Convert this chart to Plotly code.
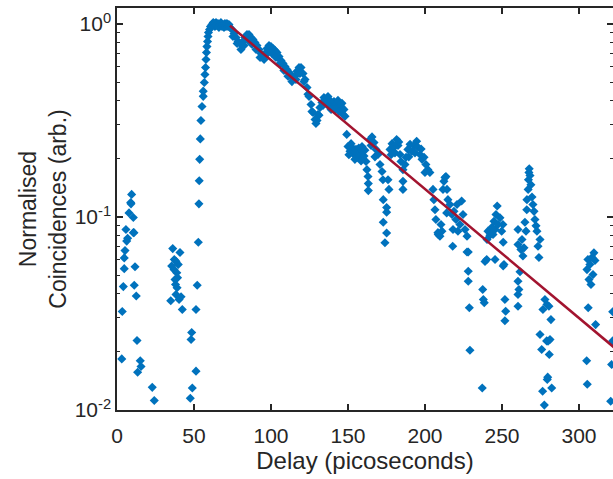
import plotly.graph_objects as go

## dados (delay em ps, coincidencias normalizadas)
# fundo antes do pulso
bg_delay = [3.1, 3.4, 4.1, 4.7, 4.7, 5.2, 5.8, 6.3, 6.9, 7.8, 8.9, 9.1, 9.5, 10.6, 10.6, 11.0, 11.7,
            11.2, 12.5, 13.0, 15.1, 15.6, 13.4, 22.9, 24.2]
bg_coinc = [0.0184, 0.0324, 0.0436, 0.054, 0.0614, 0.067, 0.0861, 0.075, 0.0776, 0.105, 0.119, 0.117,
            0.131, 0.0995, 0.083, 0.083, 0.0552, 0.0443, 0.039, 0.0229, 0.018, 0.0168, 0.0157, 0.0131, 0.0112]

# grupo em ~40 ps
grp_delay = [34.9, 35.5, 36.2, 37.2, 37.7, 38.3, 38.8, 39.0, 39.8, 40.9, 41.6, 42.4, 38.3, 39.3, 38.0, 40.3, 37.0]
grp_coinc = [0.0368, 0.0557, 0.0686, 0.0602, 0.0474, 0.0397, 0.0514, 0.043, 0.0567, 0.0655, 0.0386, 0.0332,
             0.059, 0.0485, 0.0447, 0.0374, 0.0534]

# subida do pulso
rise_delay = [47.6, 48.1, 48.5, 48.9, 51.3, 51.3, 52.1, 52.8, 53.2, 53.4, 53.7, 54.1, 54.5, 55.2, 56.0, 56.0,
              56.7, 57.1, 57.5, 57.8, 58.1, 58.4, 58.8, 59.1, 59.4, 60.1, 60.7, 61.7, 62.5]
rise_coinc = [0.0115, 0.0232, 0.0252, 0.013, 0.0159, 0.0332, 0.0443, 0.074, 0.117, 0.154, 0.199, 0.254, 0.316,
              0.374, 0.422, 0.449, 0.498, 0.548, 0.595, 0.655, 0.712, 0.764, 0.812, 0.862, 0.903, 0.936, 0.97,
              0.994, 1.018]

# topo
top_delay = [63.0, 63.6, 64.3, 64.9, 65.6, 66.2, 66.9, 67.5, 68.2, 68.8, 69.5, 70.1, 70.8, 71.4, 72.1, 72.7, 73.4]
top_coinc = [1.006, 0.97, 1.018, 0.982, 1.006, 0.959, 0.994, 1.018, 0.97, 0.994, 0.959, 1.006, 0.97, 1.006,
             0.97, 0.994, 0.959]

# decaimento (faixa densa)
dec_delay = [74.7, 76.0, 77.3, 78.6, 79.9, 81.2, 81.8, 83.1, 84.4, 85.7, 87.0, 88.3, 89.6, 90.9, 92.2,
             93.5, 94.8, 96.1, 97.4, 98.7, 100.0, 101.3, 102.6, 103.9, 105.2, 106.5, 107.8, 109.1, 110.4, 111.7,
             113.0, 114.3, 115.6, 116.9, 118.2, 119.5, 120.8, 122.1, 123.4, 124.7, 126.0, 127.3, 128.6, 129.9,
             130.5, 131.8, 133.1, 134.4, 135.7, 137.0, 138.3, 139.6, 140.9, 142.2, 143.5, 144.8, 146.1, 147.4,
             148.1,
             75.3, 78.0, 80.5, 82.5, 85.1, 87.7, 90.3, 92.9, 95.5, 98.1, 100.6, 103.2, 105.8, 108.4, 111.0,
             113.6, 116.2, 118.8, 121.4, 124.0, 126.6, 129.2, 131.2, 133.8, 136.4, 139.0, 141.6, 144.2, 146.8]
dec_coinc = [0.936, 0.893, 0.851, 0.812, 0.792, 0.783, 0.812, 0.851, 0.882, 0.882, 0.851, 0.831, 0.802, 0.774,
             0.738, 0.703, 0.678, 0.703, 0.746, 0.774, 0.764, 0.746, 0.730, 0.711, 0.678, 0.647, 0.625, 0.602,
             0.581, 0.561, 0.548, 0.522, 0.536, 0.570, 0.595, 0.595, 0.554, 0.516, 0.469, 0.421, 0.383, 0.348,
             0.320, 0.316, 0.340, 0.369, 0.392, 0.416, 0.407, 0.421, 0.402, 0.379, 0.397, 0.383, 0.402, 0.374,
             0.388, 0.361, 0.333,
             0.862, 0.792, 0.738, 0.774, 0.822, 0.783, 0.738, 0.671, 0.655, 0.711, 0.703, 0.671, 0.625, 0.575,
             0.536, 0.503, 0.516, 0.554, 0.503, 0.432, 0.352, 0.305, 0.337, 0.379, 0.383, 0.361, 0.361, 0.352,
             0.340]

# meio (150-210 ps)
mid_delay = [149.2, 150.0, 151.3, 152.6, 153.9, 155.2, 156.5, 157.8, 159.1, 160.4, 161.7, 162.3, 163.0, 163.2,
             163.2, 164.3, 165.6, 166.9, 168.2, 169.5, 170.8, 172.1, 172.7, 172.9, 174.0, 175.1, 172.9, 175.1,
             175.1, 176.0, 176.6, 177.3, 178.6, 179.9, 181.6, 182.5, 183.8, 184.4, 185.7, 185.7, 185.7, 187.0,
             187.7, 188.9, 190.3, 191.6, 192.9, 194.6, 195.5, 196.8, 198.1, 199.4, 200.6, 201.9, 203.2, 205.2,
             205.8, 206.5, 207.1, 208.4, 208.6, 209.7,
             150.6, 152.0, 154.5, 157.0, 158.5, 161.0, 165.0, 167.5, 178.0, 180.5, 183.0, 189.5, 193.5, 197.5,
             200.0]
mid_coinc = [0.268, 0.232, 0.219, 0.230, 0.211, 0.224, 0.204, 0.216, 0.232, 0.207, 0.194, 0.176, 0.162, 0.149,
             0.137, 0.252, 0.260, 0.243, 0.224, 0.211, 0.187, 0.172, 0.156, 0.123, 0.0736, 0.0826, 0.094, 0.106,
             0.112, 0.156, 0.139, 0.224, 0.240, 0.230, 0.252, 0.235, 0.211, 0.194, 0.176, 0.153, 0.139, 0.187,
             0.204, 0.224, 0.238, 0.219, 0.235, 0.247, 0.230, 0.211, 0.199, 0.204, 0.187, 0.176, 0.170, 0.139,
             0.123, 0.109, 0.097, 0.083, 0.0811, 0.0796,
             0.210, 0.240, 0.199, 0.228, 0.195, 0.222, 0.235, 0.205, 0.210, 0.215, 0.245, 0.205, 0.215, 0.225,
             0.170]

# 210-253 ps
g_delay = [210.4, 211.0, 211.7, 212.3, 213.0, 213.6, 214.3, 214.1, 214.9, 216.2, 217.5, 218.2, 218.8, 220.1,
           220.8, 221.4, 222.7, 223.8, 224.7, 226.0, 227.3, 218.0, 227.3, 228.1, 228.1, 228.1, 228.8, 229.2,
           237.2, 237.5, 237.9, 238.5, 239.0, 240.1, 240.3, 240.9, 242.2, 243.5, 244.2, 244.8, 245.5, 245.5,
           246.1, 246.9, 247.4, 248.7, 249.8, 250.6, 250.8, 250.8, 251.3, 251.9, 252.4, 251.9]
g_coinc = [0.0914, 0.0845, 0.139, 0.153, 0.160, 0.162, 0.139, 0.105, 0.123, 0.116, 0.103, 0.0861, 0.107, 0.097,
           0.116, 0.0845, 0.0914, 0.121, 0.103, 0.0861, 0.0796, 0.0706, 0.0659, 0.0659, 0.0524, 0.0465, 0.0339,
           0.0204,
           0.013, 0.0421, 0.0374, 0.036, 0.0588, 0.0602, 0.0764, 0.0845, 0.0805, 0.0885, 0.0811, 0.095, 0.0861,
           0.0602, 0.103, 0.114, 0.0914, 0.099, 0.0845, 0.0914, 0.074, 0.0558, 0.0567, 0.0374, 0.0325, 0.029]

# 260-283 ps
h_delay = [260.4, 260.4, 260.4, 260.4, 260.4, 261.0, 261.7, 262.3, 263.0, 263.6, 264.3, 264.9, 265.6, 266.1,
           266.2, 267.0, 267.2, 267.5, 267.7, 268.2, 268.8, 269.5, 270.1, 270.8, 271.4, 272.1, 272.7, 273.4,
           274.0, 274.7, 274.7, 275.8, 276.4, 276.6, 277.5, 277.9, 279.0, 279.2, 279.4, 279.7, 279.9, 280.5,
           280.7, 281.2, 281.8, 282.3]
h_coinc = [0.0861, 0.072, 0.0465, 0.0397, 0.0345, 0.0421, 0.052, 0.0679, 0.0764, 0.0628, 0.0692, 0.094, 0.0845,
           0.109, 0.123, 0.139, 0.156, 0.170, 0.178, 0.164, 0.147, 0.127, 0.116, 0.107, 0.097, 0.090, 0.0845,
           0.0706, 0.0617, 0.0764, 0.0246, 0.0206, 0.0125, 0.0332, 0.0106, 0.0374, 0.0228, 0.0352, 0.0144,
           0.0148, 0.0227, 0.0345, 0.0194, 0.0232, 0.0294, 0.013]

# final
end_delay = [305.0, 305.2, 305.4, 305.8, 306.0, 306.5, 307.1, 307.8, 308.4, 309.1, 309.7, 310.4, 310.8,
             321.2, 320.6, 321.9, 321.9]
end_coinc = [0.018, 0.0534, 0.0136, 0.0602, 0.0339, 0.0474, 0.0567, 0.0447, 0.0617, 0.0503, 0.0652, 0.0596,
             0.0277, 0.0172, 0.0111, 0.0323, 0.0228]

# ajuste exponencial (extremos lidos)
fit_delay = [73.4, 325.0]
fit_coinc = [0.98, 0.0204]

x_ticks = [0, 50, 100, 150, 200, 250, 300]
y_ticks = [0.01, 0.1, 1]
y_ticktext = ["10<sup>-2</sup>", "10<sup>-1</sup>", "10<sup>0</sup>"]
y_minor = [0.02, 0.03, 0.04, 0.05, 0.06, 0.07, 0.08, 0.09, 0.2, 0.3, 0.4, 0.5, 0.6, 0.7, 0.8, 0.9]

delay = bg_delay + grp_delay + rise_delay + top_delay + dec_delay + mid_delay + g_delay + h_delay + end_delay
coinc = bg_coinc + grp_coinc + rise_coinc + top_coinc + dec_coinc + mid_coinc + g_coinc + h_coinc + end_coinc

cor_eixo = "#262626"
fonte = "Liberation Sans, Arial, sans-serif"

fig = go.Figure()
fig.add_trace(go.Scatter(x=delay, y=coinc, mode="markers",
                         marker=dict(symbol="diamond", size=7, color="#0072BD", line_width=0),
                         yaxis="y", showlegend=False))
fig.add_trace(go.Scatter(x=fit_delay, y=fit_coinc, mode="lines",
                         line=dict(color="#A2142F", width=2.5),
                         yaxis="y2", showlegend=False))

yrange = [-2, 0.083]
minor_y = dict(tickmode="array", tickvals=y_minor, ticks="inside", ticklen=3.5, tickwidth=1.2,
               tickcolor=cor_eixo, showgrid=False)
fig.update_layout(
    width=613, height=479,
    margin=dict(l=117, r=0, t=8, b=69),
    plot_bgcolor="white", paper_bgcolor="white",
    font=dict(family=fonte, color=cor_eixo, size=21),
    xaxis=dict(range=[0, 322.1], tickvals=x_ticks, ticks="inside", ticklen=6, tickwidth=1.5,
               tickcolor=cor_eixo, showline=True, linecolor=cor_eixo, linewidth=1.5, mirror="ticks",
               showgrid=False, zeroline=False, tickfont=dict(size=21), ticklabelstandoff=6,
               title=dict(text="Delay (picoseconds)", font=dict(size=24), standoff=6)),
    yaxis=dict(type="log", range=yrange, tickvals=y_ticks, ticktext=y_ticktext, ticks="inside",
               ticklen=6, tickwidth=1.5, tickcolor=cor_eixo, showline=True, linecolor=cor_eixo,
               linewidth=1.5, showgrid=False, zeroline=False, tickfont=dict(size=21),
               minor=minor_y,
               title=dict(text="Normalised<br>Coincidences (arb.)", font=dict(size=23), standoff=2)),
    yaxis2=dict(type="log", range=yrange, overlaying="y", side="right", tickvals=y_ticks,
                showticklabels=False, ticks="inside", ticklen=6, tickwidth=1.5, tickcolor=cor_eixo,
                showline=False, showgrid=False, zeroline=False, minor=minor_y),
)

# pagina sem margem no body, para o grafico ocupar a janela toda
fig.write_html("out.html", config={"displayModeBar": False},
               post_script="document.body.style.margin='0';")
